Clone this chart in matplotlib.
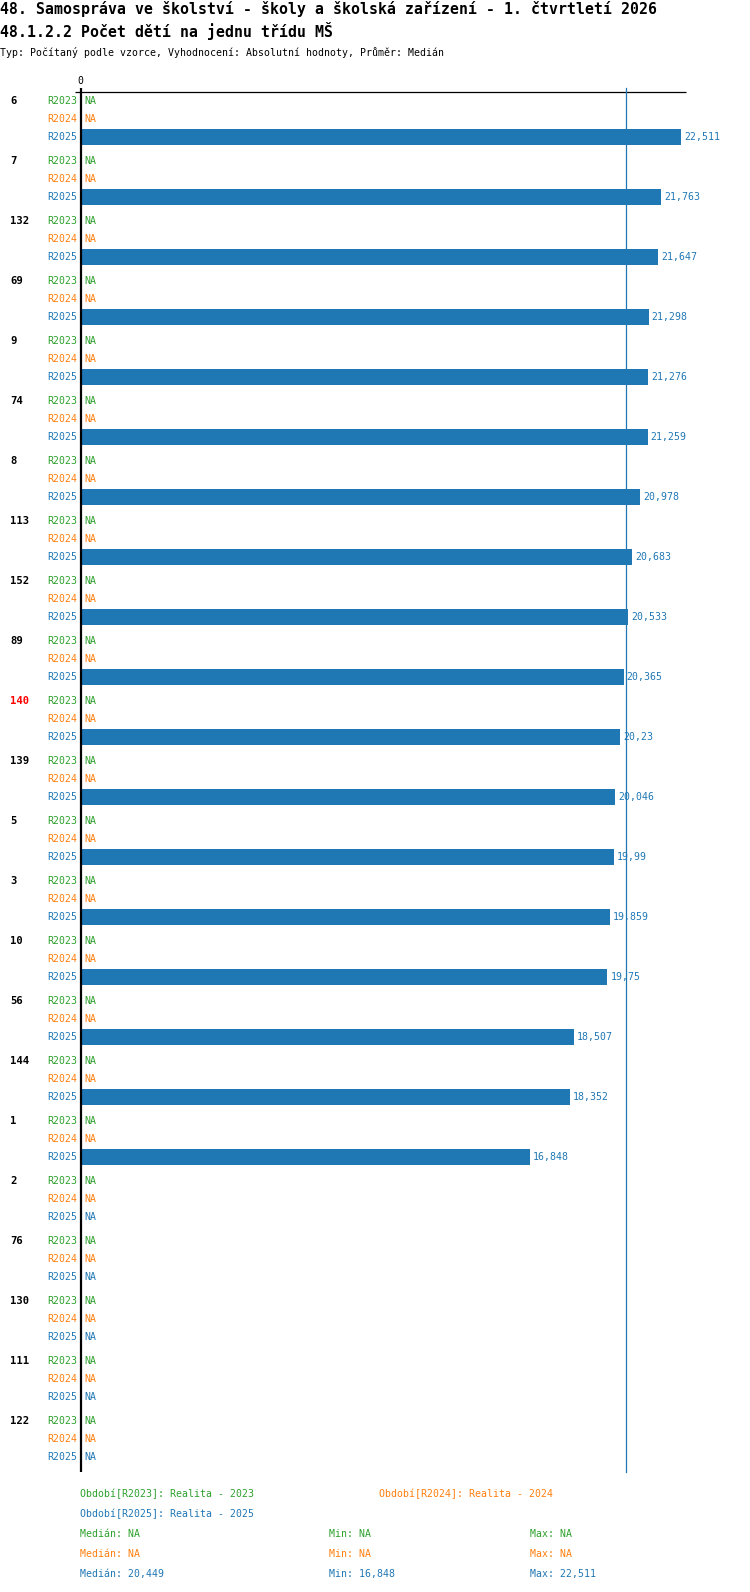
import numpy as np
import matplotlib
matplotlib.use("Agg")
import matplotlib.pyplot as plt
import matplotlib.transforms as mtransforms

plt.rcParams['font.family'] = ['DejaVu Sans Mono']

title1 = "48. Samospráva ve školství - školy a školská zařízení - 1. čtvrtletí 2026"
title2 = "48.1.2.2 Počet dětí na jednu třídu MŠ"
subtitle = "Typ: Počítaný podle vzorce, Vyhodnocení: Absolutní hodnoty, Průměr: Medián"

groups = ['6', '7', '132', '69', '9', '74', '8', '113', '152', '89', '140', '139',
          '5', '3', '10', '56', '144', '1', '2', '76', '130', '111', '122']
highlight = '140'
series = ['R2023', 'R2024', 'R2025']
colors = ['#2ca02c', '#ff7f0e', '#1f77b4']
nan = np.nan
r2023 = [nan] * 23
r2024 = [nan] * 23
r2025 = [22.511, 21.763, 21.647, 21.298, 21.276, 21.259, 20.978, 20.683, 20.533,
         20.365, 20.23, 20.046, 19.99, 19.859, 19.75, 18.507, 18.352, 16.848,
         nan, nan, nan, nan, nan]
values = [r2023, r2024, r2025]
median_2025 = 20.449
legend_names = ["Období[R2023]: Realita - 2023", "Období[R2024]: Realita - 2024",
                "Období[R2025]: Realita - 2025"]
stats = [("NA", "NA", "NA"), ("NA", "NA", "NA"), ("20,449", "16,848", "22,511")]

W, H = 750, 1592
fig = plt.figure(figsize=(W / 100, H / 100), dpi=100)

def fx(px):
    return px / W

def fy(py):
    return 1 - py / H

ax_left, ax_right, ax_top, ax_bot = 81, 686, 92, 1472
ax = fig.add_axes([fx(ax_left), fy(ax_bot), (ax_right - ax_left) / W, (ax_bot - ax_top) / H])
px_per_unit = 26.65
ax.set_xlim(0, (ax_right - ax_left) / px_per_unit)

row_h = 18.0
grp_h = 60.0
n = len(groups)
def ypos(g, r):
    return g * grp_h / row_h + r
ymax = ypos(n - 1, 2) + (ax_bot - (101 + grp_h * (n - 1) + 2 * row_h)) / row_h
ax.set_ylim(ymax, -0.5)

for s in ['right', 'bottom', 'top', 'left']:
    ax.spines[s].set_visible(False)
ax.set_xticks([])
ax.set_yticks([])

# left axis line (slightly above the top line)
ax.plot([0, 0], [-0.5 - 4 / row_h, ymax], color='black', lw=1.6, clip_on=False,
        solid_capstyle='butt', zorder=5)
# top line slightly extended to the left
ax.plot([-6 / px_per_unit, ax.get_xlim()[1]], [-0.5, -0.5], color='black', lw=0.9,
        clip_on=False, solid_capstyle='butt')

# median line
ax.plot([median_2025, median_2025], [-0.75, ymax], color='#1f77b4', lw=0.9, clip_on=False)

offset_px = lambda dx: mtransforms.offset_copy(ax.transData, fig=fig, x=dx, y=0, units='dots')
axes_x_data = mtransforms.blended_transform_factory(fig.transFigure, ax.transData)

fs = 7.1
for g, name in enumerate(groups):
    ax.text(fx(10), ypos(g, 0), name, transform=axes_x_data, ha='left', va='center',
            fontsize=7.6, fontweight='bold', color='red' if name == highlight else 'black')
    for r in range(3):
        y = ypos(g, r)
        ax.text(fx(77), y, series[r], transform=axes_x_data, ha='right', va='center',
                fontsize=fs, color=colors[r])
        v = values[r][g]
        if np.isnan(v):
            ax.text(0, y, "NA", transform=offset_px(3), ha='left', va='center',
                    fontsize=fs, color=colors[r])
        else:
            ax.barh(y, v, height=16 / 18, left=0, color=colors[r])
            lab = format(v, 'g').replace('.', ',')
            ax.text(v, y, lab, transform=offset_px(3), ha='left', va='center',
                    fontsize=fs, color=colors[r])

# zero tick label
fig.text(fx(80), fy(81), "0", ha='center', va='center', fontsize=fs)

# titles
fig.text(fx(0), fy(9), title1, ha='left', va='center', fontsize=10.7, fontweight='bold')
fig.text(fx(0), fy(31), title2, ha='left', va='center', fontsize=10.7, fontweight='bold')
fig.text(fx(0), fy(52), subtitle, ha='left', va='center', fontsize=fs)

# legend
fig.text(fx(80), fy(1494), legend_names[0], ha='left', va='center', fontsize=fs, color=colors[0])
fig.text(fx(379), fy(1494), legend_names[1], ha='left', va='center', fontsize=fs, color=colors[1])
fig.text(fx(80), fy(1514), legend_names[2], ha='left', va='center', fontsize=fs, color=colors[2])
for i, (med, mn, mx) in enumerate(stats):
    y = fy(1534 + 20 * i)
    fig.text(fx(80), y, "Medián: " + med, ha='left', va='center', fontsize=fs, color=colors[i])
    fig.text(fx(329), y, "Min: " + mn, ha='left', va='center', fontsize=fs, color=colors[i])
    fig.text(fx(530), y, "Max: " + mx, ha='left', va='center', fontsize=fs, color=colors[i])

fig.savefig("out.png", dpi=100)
